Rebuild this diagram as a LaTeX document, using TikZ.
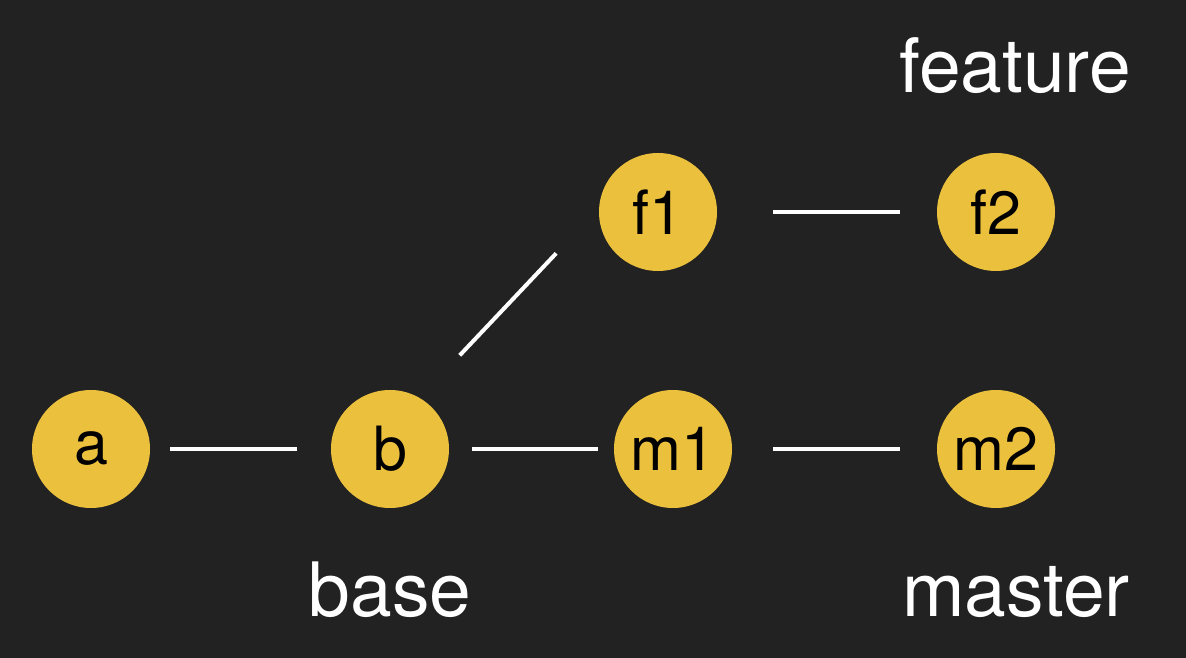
\documentclass[tikz,border=0pt]{standalone}
\usepackage{fontspec}
\setmainfont{TeX Gyre Heros}
\usepackage{xcolor}
\usetikzlibrary{positioning}
\definecolor{bgdark}{HTML}{222222}
\definecolor{commit}{HTML}{EBC03D}
\tikzset{
	cmt/.style={circle,fill=commit,minimum size=118pt,inner sep=0pt,outer sep=0pt,
		font=\fontsize{61}{63}\selectfont,text=black},
	link/.style={draw=white,line width=4pt},
	tag/.style={anchor=base,text=white,font=\fontsize{75}{80}\selectfont,inner sep=0pt}
}
\begin{document}
\begin{tikzpicture}[x=1pt,y=1pt]
		\fill[bgdark] (0,0) rectangle (1186,658);
		\useasboundingbox (0,0) rectangle (1186,658);
		\node[cmt] (a) at (91,209) {a};
		\node[cmt] (b) at (390,209) {b};
		\node[cmt] (m1) at (673,209) {m1};
		\node[cmt] (m2) at (996,209) {m2};
		\node[cmt] (f1) at (658,446) {f1};
		\node[cmt] (f2) at (996,446) {f2};
		\draw[link,shorten <=20pt,shorten >=34pt] (a) -- (b);
		\draw[link,shorten <=23pt,shorten >=16pt] (b) -- (m1);
		\draw[link,shorten <=41pt,shorten >=37pt] (m1) -- (m2);
		\draw[link,shorten <=56pt,shorten >=37pt] (f1) -- (f2);
		\draw[link,shorten <=58.6pt,shorten >=62.6pt] (b.60) -- (f1.176);
		\node[tag] (base) at ([yshift=-168pt]b) {base};
		\node[tag] (master) at ([xshift=20pt,yshift=-168pt]m2) {master};
		\node[tag] (feature) at ([xshift=19pt,yshift=119pt]f2) {feature};
		\end{tikzpicture}
\end{document}
